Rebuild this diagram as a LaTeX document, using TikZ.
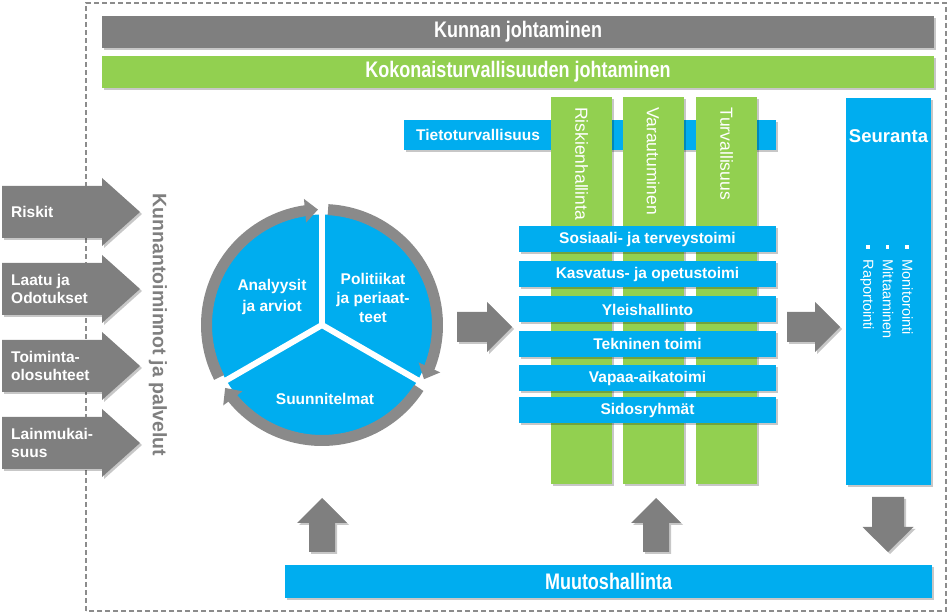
\documentclass[tikz,border=0pt]{standalone}
\usepackage{fontspec}
\usepackage{graphicx}
\setmainfont{Liberation Sans}
\usetikzlibrary{arrows.meta,bending,shadows}
\definecolor{cgray}{HTML}{7F7F7F}
\definecolor{bordergray}{HTML}{8C8C8C}
\definecolor{ringgray}{HTML}{8A8A8A}
\definecolor{cgreen}{HTML}{92D050}
\definecolor{cblue}{HTML}{00ADEF}
\newcommand{\nrw}[2]{\scalebox{0.8}[1]{\bfseries\fontsize{#1}{#1}\selectfont #2}}
\newcommand{\bulsq}{\rule[0.22em]{3.5pt}{3.5pt}\hspace{11pt}}
\begin{document}
\begin{tikzpicture}[x=1pt,y=1pt,
  shd/.style={drop shadow={shadow xshift=2pt, shadow yshift=-2pt, opacity=0.22, fill=black}},
  box/.style={inner sep=0pt, outer sep=0pt, draw=none},
  txtw/.style={text=white, inner sep=0pt, font=\bfseries\fontsize{15.5}{18}\selectfont},
  rowbox/.style={box, shd, fill=cblue, minimum width=257pt, minimum height=26pt, text=white, font=\bfseries\fontsize{15.5}{18}\selectfont},
  colbox/.style={box, shd, fill=cgreen, minimum width=61pt, minimum height=387pt},
  coltxt/.style={rotate=-90, anchor=west, inner sep=0pt, text=white, font=\fontsize{17.5}{20}\selectfont},
  blockarrow/.style={fill=cgray, draw=none, shd},
  ring/.style={ringgray, line width=11pt, -{Triangle[width=23pt,length=13pt]}}
]
\useasboundingbox (0,0) rectangle (950,615);

% dashed frame
\draw[bordergray, line width=1.8pt, dash pattern=on 5pt off 3pt] (86,4) rectangle (946,612);

% top bars
\node[box, shd, fill=cgray, minimum width=832pt, minimum height=32pt, text=white] (kj) at (518,583) {\nrw{22.5}{Kunnan johtaminen}};
\node[box, shd, fill=cgreen, minimum width=832pt, minimum height=32pt, text=white] (kt) at (518,543) {\nrw{22.5}{Kokonaisturvallisuuden johtaminen}};

% Tietoturvallisuus
\node[box, shd, fill=cblue, minimum width=372pt, minimum height=30pt] (tt) at (590,480) {};
\node[txtw, anchor=west] (ttt) at (416,480) {Tietoturvallisuus};

% green columns
\node[colbox] (c1) at (581.5,324.5) {};
\node[colbox] (c2) at (653,324.5) {};
\node[colbox] (c3) at (726.5,324.5) {};
\node[coltxt] (c1t) at (581.5,508) {Riskienhallinta};
\node[coltxt] (c2t) at (653,508) {Varautuminen};
\node[coltxt] (c3t) at (726.5,508) {Turvallisuus};

% rows
\node[rowbox] (r1) at (647.5,375.5) {Sosiaali- ja terveystoimi};
\node[rowbox] (r2) at (647.5,340.5) {Kasvatus- ja opetustoimi};
\node[rowbox] (r3) at (647.5,305.5) {Yleishallinto};
\node[rowbox] (r4) at (647.5,271) {Tekninen toimi};
\node[rowbox] (r5) at (647.5,236.5) {Vapaa-aikatoimi};
\node[rowbox] (r6) at (647.5,205) {Sidosryhmät};

% Seuranta
\node[box, shd, fill=cblue, minimum width=85pt, minimum height=387pt] (se) at (888.5,323.5) {};
\node[txtw, font=\bfseries\fontsize{18.5}{20}\selectfont] (set) at (888.5,479) {Seuranta};
\node[rotate=-90, anchor=north west, align=left, inner sep=0pt, text=white,
      font=\fontsize{14.5}{19.5}\selectfont] (sel) at (913,370)
      {\bulsq Monitorointi\\ \bulsq Mittaaminen\\ \bulsq Raportointi};

% Muutoshallinta
\node[box, shd, fill=cblue, minimum width=647pt, minimum height=33pt, text=white] (mu) at (608.5,33.5) {\nrw{22.5}{Muutoshallinta}};

% left arrows
\foreach \yc in {403,326,249,172}{
  \fill[blockarrow] (2,\yc-26) -- (102,\yc-26) -- (102,\yc-34) -- (140,\yc)
      -- (102,\yc+34) -- (102,\yc+26) -- (2,\yc+26) -- cycle;
}
\node[txtw, anchor=west, align=left] (l1) at (11,403) {Riskit};
\node[txtw, anchor=west, align=left] (l2) at (11,326) {Laatu ja\\Odotukset};
\node[txtw, anchor=west, align=left] (l3) at (11,249) {Toiminta-\\olosuhteet};
\node[txtw, anchor=west, align=left] (l4) at (11,172) {Lainmukai-\\suus};

\node[rotate=-90, inner sep=0pt, text=cgray, font=\bfseries\fontsize{19.5}{22}\selectfont] (kp) at (158,290) {Kunnantoiminnot ja palvelut};

% cycle
\coordinate (cc) at (322,290);
\fill[cblue] (cc) circle (110.5);
\foreach \a in {90,210,330}{
  \draw[white, line width=6pt] (cc) -- ++(\a:112);
}
\draw[ring] ([shift={(207:115.5)}]cc) arc[start angle=207, end angle=92, radius=115.5];
\draw[ring] ([shift={(87:115.5)}]cc) arc[start angle=87, end angle=-28, radius=115.5];
\draw[ring] ([shift={(-33:115.5)}]cc) arc[start angle=-33, end angle=-147, radius=115.5];
\node[txtw, align=center, font=\bfseries\fontsize{15.5}{21}\selectfont] (ca) at (272,318) {Analyysit\\ja arviot};
\node[txtw, align=center, font=\bfseries\fontsize{15.5}{19}\selectfont] (cb) at (373,317) {Politiikat\\ja periaat-\\teet};
\node[txtw] (cs) at (325,216) {Suunnitelmat};

% right block arrows
\fill[blockarrow] (457,273) -- (487,273) -- (487,263) -- (512,288) -- (487,313) -- (487,303) -- (457,303) -- cycle;
\fill[blockarrow] (787,273) -- (815,273) -- (815,263) -- (840,288) -- (815,313) -- (815,303) -- (787,303) -- cycle;

% up / down arrows
\fill[blockarrow] (309,63) -- (335,63) -- (335,92) -- (347,92) -- (322,117) -- (297,92) -- (309,92) -- cycle;
\fill[blockarrow] (643,63) -- (669,63) -- (669,92) -- (681,92) -- (656,117) -- (631,92) -- (643,92) -- cycle;
\fill[blockarrow] (872,118) -- (904,118) -- (904,88) -- (913.5,88) -- (888,63) -- (862.5,88) -- (872,88) -- cycle;
\end{tikzpicture}
\end{document}
